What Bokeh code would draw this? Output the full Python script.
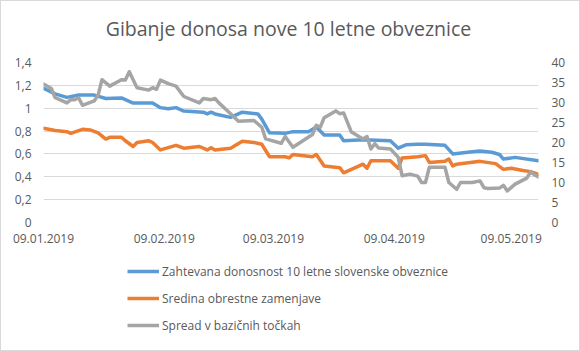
import pandas as pd
from bokeh.plotting import figure
from bokeh.layouts import column
from bokeh.models import (Range1d, LinearAxis, FixedTicker, DatetimeTickFormatter,
                          CustomJSTickFormatter, Legend, LegendItem, Label)
from bokeh.embed import file_html
from bokeh.resources import INLINE

title_text = "Gibanje donosa nove 10 letne obveznice"
series_names = ["Zahtevana donosnost 10 letne slovenske obveznice",
                "Sredina obrestne zamenjave",
                "Spread v bazičnih točkah"]

yield_dates = ["2019-01-09","2019-01-12","2019-01-15","2019-01-18","2019-01-22","2019-01-25","2019-01-29","2019-01-30",
               "2019-02-01","2019-02-06","2019-02-08","2019-02-10","2019-02-12","2019-02-14","2019-02-19","2019-02-20","2019-02-21","2019-02-22","2019-02-26",
               "2019-03-01","2019-03-05","2019-03-06","2019-03-08","2019-03-12","2019-03-14","2019-03-18","2019-03-20","2019-03-22","2019-03-26","2019-03-27",
               "2019-04-01","2019-04-08","2019-04-10","2019-04-12","2019-04-15","2019-04-17","2019-04-22","2019-04-24","2019-04-29",
               "2019-05-01","2019-05-04","2019-05-06","2019-05-07","2019-05-10","2019-05-16"]
yield_values = [1.175,1.125,1.095,1.115,1.115,1.085,1.09,1.075,
                1.045,1.045,1.005,0.995,1.005,0.975,0.965,0.95,0.965,0.95,0.92,
                0.965,0.95,0.905,0.785,0.78,0.795,0.795,0.835,0.765,0.765,0.715,
                0.725,0.715,0.65,0.68,0.685,0.685,0.675,0.60,0.62,
                0.625,0.615,0.595,0.555,0.57,0.54]

swap_dates = ["2019-01-09","2019-01-12","2019-01-15","2019-01-16","2019-01-19","2019-01-21","2019-01-23","2019-01-25","2019-01-26","2019-01-29","2019-01-30",
              "2019-02-01","2019-02-02","2019-02-05","2019-02-06","2019-02-08","2019-02-10","2019-02-12","2019-02-14","2019-02-18","2019-02-20","2019-02-21","2019-02-22","2019-02-26",
              "2019-03-01","2019-03-04","2019-03-06","2019-03-08","2019-03-12","2019-03-13","2019-03-14","2019-03-19","2019-03-20","2019-03-22","2019-03-26","2019-03-27","2019-03-29",
              "2019-04-01","2019-04-02","2019-04-03","2019-04-08","2019-04-10","2019-04-11","2019-04-15","2019-04-17","2019-04-18","2019-04-22","2019-04-23","2019-04-24","2019-04-25",
              "2019-05-01","2019-05-05","2019-05-07","2019-05-09","2019-05-12","2019-05-14","2019-05-16"]
swap_values = [0.825,0.805,0.795,0.78,0.815,0.81,0.785,0.73,0.745,0.745,0.715,
               0.665,0.70,0.715,0.70,0.635,0.655,0.675,0.65,0.665,0.635,0.655,0.635,0.65,
               0.71,0.70,0.685,0.575,0.575,0.565,0.595,0.575,0.595,0.495,0.48,0.435,0.465,
               0.51,0.475,0.54,0.54,0.475,0.565,0.575,0.585,0.525,0.535,0.555,0.495,0.51,
               0.535,0.515,0.465,0.475,0.455,0.445,0.42]

spread_dates = ["2019-01-09","2019-01-11","2019-01-12","2019-01-15","2019-01-16","2019-01-17","2019-01-18","2019-01-19","2019-01-22","2019-01-23","2019-01-24","2019-01-26","2019-01-29","2019-01-30","2019-01-31",
                "2019-02-02","2019-02-05","2019-02-06","2019-02-07","2019-02-08","2019-02-10","2019-02-12","2019-02-14","2019-02-18","2019-02-19","2019-02-21","2019-02-22","2019-02-23","2019-02-26","2019-02-28",
                "2019-03-04","2019-03-06","2019-03-07","2019-03-11","2019-03-12","2019-03-14","2019-03-19","2019-03-20","2019-03-21","2019-03-22","2019-03-25","2019-03-26","2019-03-27","2019-03-29",
                "2019-04-01","2019-04-02","2019-04-03","2019-04-04","2019-04-05","2019-04-08","2019-04-10","2019-04-11","2019-04-13","2019-04-15","2019-04-16","2019-04-17","2019-04-18","2019-04-22","2019-04-23","2019-04-25","2019-04-26","2019-04-29",
                "2019-05-01","2019-05-02","2019-05-03","2019-05-06","2019-05-07","2019-05-08","2019-05-10","2019-05-13","2019-05-14","2019-05-15","2019-05-16"]
spread_values = [34.6,33.5,31.2,29.9,30.7,30.7,31.2,29.3,30.4,31.8,35.7,34.1,35.7,35.6,37.7,
                 33.7,33.1,33.7,33.3,35.6,34.7,34.1,31.5,29.9,31.0,30.7,31.0,29.9,27.2,25.3,
                 25.5,23.8,20.9,19.8,21.5,18.8,22.0,24.3,23.8,26.2,27.9,27.2,27.4,22.6,
                 20.9,21.5,18.4,19.7,18.6,18.4,16.3,11.7,12.1,11.6,10.0,10.0,13.8,13.8,10.0,8.3,10.0,10.0,
                 10.4,8.7,8.5,8.6,9.3,7.9,9.6,11.1,12.7,11.9,11.4]

x_tick_dates = ["2019-01-09","2019-02-09","2019-03-09","2019-04-09","2019-05-09"]
x_start, x_end = "2019-01-09", "2019-05-16"
left_ticks = [0, 0.2, 0.4, 0.6, 0.8, 1.0, 1.2, 1.4]
right_ticks = [0, 5, 10, 15, 20, 25, 30, 35, 40]

colors = ["#5B9BD5", "#ED7D31", "#A5A5A5"]
TXT = "#595959"
FONT = "Open Sans"
LW = 3.5

def ms(d):
    return pd.Timestamp(d).value // 10**6

series_x = [pd.to_datetime(yield_dates), pd.to_datetime(swap_dates), pd.to_datetime(spread_dates)]
series_y = [yield_values, swap_values, spread_values]

def strip(h):
    f = figure(width=578, height=h, output_backend="svg", toolbar_location=None,
               x_range=Range1d(0, 1), y_range=Range1d(0, 1),
               x_axis_location=None, y_axis_location=None,
               min_border_left=0, min_border_right=0, min_border_top=0, min_border_bottom=0)
    f.outline_line_color = None
    f.grid.grid_line_color = None
    f.background_fill_color = "white"
    f.border_fill_color = "white"
    return f

# ---------- title strip ----------
t = strip(51)
t.add_layout(Label(x=245, y=24, x_units="screen", y_units="screen", text=title_text,
                   text_align="center", text_baseline="alphabetic",
                   text_font=FONT, text_font_size="19.5px", text_color=TXT))

# ---------- main chart ----------
p = figure(width=578, height=200, output_backend="svg", toolbar_location=None,
           x_axis_type="datetime",
           x_range=Range1d(pd.Timestamp(x_start), pd.Timestamp(x_end)),
           y_range=Range1d(0, 1.4),
           min_border_left=42, min_border_right=41, min_border_top=10, min_border_bottom=30)
p.outline_line_color = None
p.background_fill_color = "white"
p.border_fill_color = "white"

p.extra_y_ranges = {"spread": Range1d(0, 40)}

p.line(series_x[0], series_y[0], color=colors[0], line_width=LW, line_join="round", line_cap="round")
p.line(series_x[1], series_y[1], color=colors[1], line_width=LW, line_join="round", line_cap="round")
p.line(series_x[2], series_y[2], color=colors[2], line_width=LW, line_join="round", line_cap="round",
       y_range_name="spread")

xa = p.xaxis[0]
xa.ticker = FixedTicker(ticks=[ms(d) for d in x_tick_dates])
fmt = "%d.%m.%Y"
xa.formatter = DatetimeTickFormatter(days=fmt, months=fmt, years=fmt, hours=fmt,
                                     minutes=fmt, seconds=fmt, milliseconds=fmt,
                                     microseconds=fmt, minsec=fmt, hourmin=fmt)
ya = p.yaxis[0]
ya.ticker = FixedTicker(ticks=left_ticks)
ya.formatter = CustomJSTickFormatter(code="return tick.toFixed(1).replace('.0','').replace('.', ',');")

ra = LinearAxis(y_range_name="spread", ticker=FixedTicker(ticks=right_ticks))
p.add_layout(ra, "right")

for ax in [xa, ya, ra]:
    ax.axis_line_color = None
    ax.major_tick_line_color = None
    ax.minor_tick_line_color = None
    ax.major_tick_out = 0
    ax.major_tick_in = 0
    ax.minor_tick_out = 0
    ax.major_label_text_font = FONT
    ax.major_label_text_font_size = "12px"
    ax.major_label_text_color = TXT
xa.major_label_standoff = 11
ya.major_label_standoff = 12
ra.major_label_standoff = 13

p.xgrid.grid_line_color = None
p.ygrid.grid_line_color = "#D9D9D9"
p.ygrid.ticker = FixedTicker(ticks=left_ticks)

# ---------- legend strip (series drawn outside its view, only legend visible) ----------
q = strip(98)
items = []
for name, c, xs, ys in zip(series_names, colors, series_x, series_y):
    r = q.line(xs, ys, color=c, line_width=LW, line_cap="butt")
    items.append(LegendItem(label=name, renderers=[r]))

legend = Legend(items=items, location=(84, 15), orientation="vertical")
legend.padding = 0
legend.margin = 0
legend.spacing = 7
legend.glyph_width = 32
legend.glyph_height = 20
legend.label_height = 20
legend.label_standoff = 3
legend.label_text_font = FONT
legend.label_text_font_size = "12px"
legend.label_text_color = TXT
legend.border_line_color = None
legend.background_fill_alpha = 0
q.add_layout(legend, "center")

layout = column(t, p, q, spacing=0, styles={"border": "1px solid #D9D9D9", "background": "white"})

open("out.html", "w").write(file_html(layout, INLINE))
